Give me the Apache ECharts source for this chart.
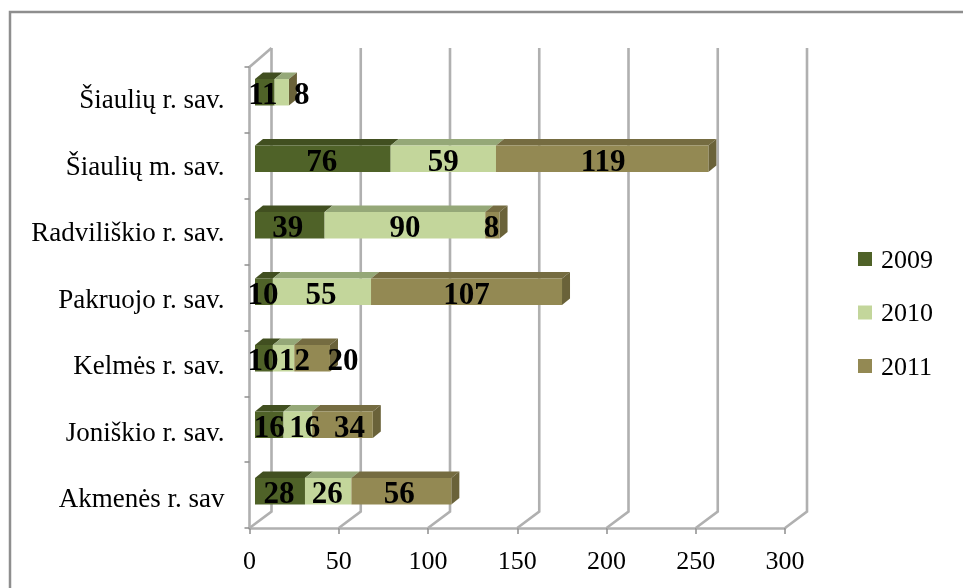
<!DOCTYPE html>
<html>
<head>
<meta charset="utf-8">
<style>html,body{margin:0;padding:0;background:#fff}#c{width:963px;height:588px}</style>
<script src="https://cdn.jsdelivr.net/npm/echarts@6/dist/echarts.min.js"></script>
</head>
<body>
<div id="c"></div>
<script>
const categories = ['Akmenės r. sav','Joniškio r. sav.','Kelmės r. sav.','Pakruojo r. sav.','Radviliškio r. sav.','Šiaulių m. sav.','Šiaulių r. sav.'];
const years = ['2009','2010','2011'];
const values2009 = [28,16,10,10,39,76,11];
const values2010 = [26,16,12,55,90,59,8];
const values2011 = [56,34,20,107,8,119,0];
const xTicks = [0,50,100,150,200,250,300];

// label nudges in pixels (style only)
const nudge2009 = [-1,0,-1,-1,-2,-1,-2];
const nudge2010 = [-1,7,11,-1,0,0,20];
const nudge2011 = [-2,7,31,0,-1,1,0];
const categoryLabelDrop = [5,5,4,3,2,2,1];

const serif = '"Liberation Serif"';
const lineGrey = '#b0b0b0';
const wallDX = 22, wallDY = -16.5;
const barShiftX = 5.5, barDX = 8, barDY = -6.5, barH = 26.5;

const faces = [
  {fill:'#4f6228', top:'#414f20', side:'#3b4a1c'},
  {fill:'#c3d69b', top:'#95a878', side:'#8b9c6c'},
  {fill:'#938953', top:'#756c41', side:'#6a6239'}
];

function renderBar(sIdx, nudges){
  return function(params, api){
    const start = api.value(0), len = api.value(1), row = api.value(2);
    const a = api.coord([start,row]), b = api.coord([start+len,row]);
    const x0 = a[0]+barShiftX, x1 = b[0]+barShiftX;
    const yTop = a[1]-19+(3-row)*0.65, yBot = yTop+barH;
    const f = faces[sIdx];
    const kids = [
      {type:'polygon',shape:{points:[[x0,yTop],[x1,yTop],[x1+barDX,yTop+barDY],[x0+barDX,yTop+barDY]]},style:{fill:f.top},z2:1},
      {type:'rect',shape:{x:x0,y:yTop,width:x1-x0,height:barH},style:{fill:f.fill},z2:3}
    ];
    if(sIdx===2){
      kids.push({type:'polygon',shape:{points:[[x1,yTop],[x1+barDX,yTop+barDY],[x1+barDX,yBot+barDY],[x1,yBot]]},style:{fill:f.side},z2:2});
    }
    if(len>0){
      kids.push({type:'text',z2:50,style:{text:String(len),x:(x0+x1)/2+nudges[row],y:yTop+barH/2+4,
        align:'center',verticalAlign:'middle',fill:'#000',font:'bold 31px '+serif}});
    }
    return {type:'group',children:kids};
  };
}

function stackData(sets,idx){
  return sets[idx].map((v,i)=>{
    let s=0; for(let k=0;k<idx;k++) s+=sets[k][i];
    return [s,v,i];
  });
}
const sets = [values2009,values2010,values2011];
const nudges = [nudge2009,nudge2010,nudge2011];

const wallSeries = {
  type:'custom', name:'wall', silent:true, z:1,
  coordinateSystem:'cartesian2d',
  data:xTicks.map(v=>[v]),
  encode:{x:0},
  renderItem(params,api){
    const cs = params.coordSys;
    const x = api.coord([api.value(0),0])[0];
    const yB = cs.y+cs.height, yT = cs.y;
    const style = {stroke:lineGrey,lineWidth:2.6,fill:'none'};
    const kids = [{type:'polyline',shape:{points:[[x,yB],[x+wallDX,yB+wallDY],[x+wallDX,yT-19]]},style}];
    if(params.dataIndex===0){
      kids.push({type:'polyline',shape:{points:[[x,yT],[x+wallDX,yT-19]]},style});
    }
    return {type:'group',children:kids};
  }
};

const barSeries = years.map((y,i)=>({
  type:'custom', name:y, z:3, silent:true,
  coordinateSystem:'cartesian2d',
  itemStyle:{color:faces[i].fill},
  data:stackData(sets,i),
  encode:{x:[0,1],y:2},
  renderItem:renderBar(i,nudges[i])
}));

const richRows = {};
categoryLabelDrop.forEach((d,i)=>{
  richRows['r'+i] = {fontFamily:serif,fontSize:27,color:'#000',padding:[d*2,0,0,0]};
});

const chart = echarts.init(document.getElementById('c'),null,{renderer:'canvas'});
chart.setOption({
  animation:false,
  backgroundColor:'#fff',
  graphic:[{type:'polyline',silent:true,shape:{points:[[10,588],[10,12],[963,12]]},style:{stroke:'#8e8e8e',fill:'none',lineWidth:2.5}}],
  grid:{left:249.5,top:67,width:535.5,height:461,containLabel:false},
  legend:{
    data:years, orient:'vertical', left:858, top:248, padding:0, itemWidth:14, itemHeight:14, itemGap:27.5, icon:'rect',
    formatter:n=>'{t|'+n+'}',
    textStyle:{fontFamily:serif,fontSize:26,color:'#000',
      rich:{t:{fontFamily:serif,fontSize:26,color:'#000',padding:[4,0,0,4]}}},
    selectedMode:false
  },
  xAxis:{
    type:'value',min:0,max:300,interval:50,
    axisLine:{show:true,lineStyle:{color:lineGrey,width:2.6}},
    axisTick:{show:true,length:6,lineStyle:{color:'#8f8f8f',width:1.5}},
    axisLabel:{fontFamily:serif,fontSize:26,color:'#000',margin:21,
      formatter:v=>xTicks.includes(v)?String(v):''},
    splitLine:{show:false}
  },
  yAxis:{
    type:'category',
    data:categories,
    axisLine:{show:true,lineStyle:{color:lineGrey,width:2.6}},
    axisTick:{show:true,length:5,lineStyle:{color:'#8f8f8f',width:1.5}},
    axisLabel:{fontFamily:serif,fontSize:27,color:'#000',margin:25,
      formatter:(v,i)=>'{r'+i+'|'+v+'}',rich:richRows}
  },
  series:[wallSeries].concat(barSeries)
});
</script>
</body>
</html>
